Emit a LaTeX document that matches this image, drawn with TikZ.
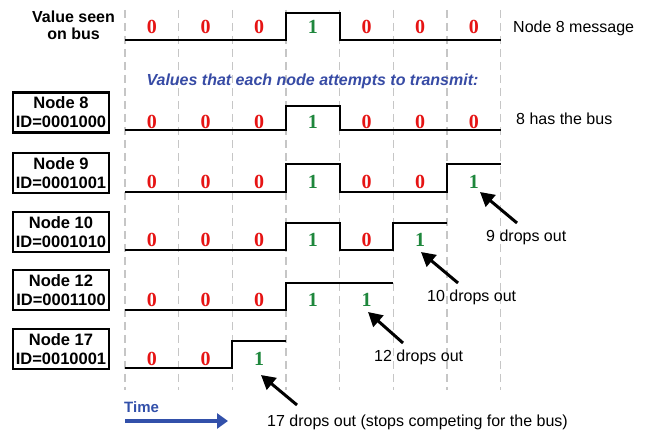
\documentclass[tikz,border=0pt]{standalone}
\usepackage{fontspec}
\setmainfont{Liberation Serif}
\newfontfamily\arial{Liberation Sans}
\usetikzlibrary{arrows.meta}
\definecolor{zred}{RGB}{230,20,20}
\definecolor{zgreen}{RGB}{30,135,60}
\definecolor{zblue}{RGB}{55,75,165}
\definecolor{tblue}{RGB}{50,80,170}
\begin{document}
\begin{tikzpicture}[x=1pt,y=-1pt,
  gridline/.style={gray!45, line width=1.5pt, dash pattern=on 8pt off 5pt},
  wave/.style={line width=1.8pt, black, line join=miter},
  zero/.style={text=zred, font=\fontsize{20}{20}\selectfont\bfseries, inner sep=0pt},
  one/.style={text=zgreen, font=\fontsize{20}{20}\selectfont\bfseries, inner sep=0pt},
  idbox/.style={draw, line width=2.2pt, minimum width=96pt, minimum height=40pt, align=center,
     font=\arial\fontsize{16.5}{19}\selectfont\bfseries, inner sep=1pt, fill=white},
  lbl/.style={font=\arial\fontsize{16}{18}\selectfont, anchor=base west, inner sep=0pt},
  arr/.style={-{Triangle[length=14pt,width=15pt]}, line width=3pt},
  tarr/.style={-{Triangle[length=11pt,width=15pt]}, line width=4.2pt, tblue}]
\useasboundingbox (0,0) rectangle (651,430);
\fill[white] (0,0) rectangle (651,430);
% grid
\foreach \i in {0,...,7}
  \draw[gridline] ({125+53.667*\i},10) -- ({125+53.667*\i},390);
% x positions
\def\XA{125}\def\XB{178.67}\def\XC{232.33}\def\XD{286}\def\XE{339.67}\def\XF{393.33}\def\XG{447}\def\XH{500.67}
% waveforms
\draw[wave] (\XA,40) -- (\XD,40) -- (\XD,13) -- (\XE,13) -- (\XE,40) -- (\XH,40);
\draw[wave] (\XA,130) -- (\XD,130) -- (\XD,106) -- (\XE,106) -- (\XE,130) -- (\XH,130);
\draw[wave] (\XA,192) -- (\XD,192) -- (\XD,164) -- (\XE,164) -- (\XE,192) -- (\XG,192) -- (\XG,164) -- (\XH,164);
\draw[wave] (\XA,250) -- (\XD,250) -- (\XD,223) -- (\XE,223) -- (\XE,250) -- (\XF,250) -- (\XF,223) -- (\XG,223);
\draw[wave] (\XA,310) -- (\XD,310) -- (\XD,283) -- (\XF,283);
\draw[wave] (\XA,368) -- (\XC,368) -- (\XC,341) -- (\XD,341);
% digits
\newcommand{\digitrow}[3]{% #1 name, #2 y, #3 list
  \foreach \d [count=\c] in {#3} {
    \ifnum\d=0
      \node[zero] (#1-\c) at ({125+53.667*(\c-0.5)},#2) {0};
    \else
      \node[one] (#1-\c) at ({125+53.667*(\c-0.5)},#2) {1};
    \fi
  }}
\digitrow{bus}{27}{0,0,0,1,0,0,0}
\digitrow{ea}{121.5}{0,0,0,1,0,0,0}
\digitrow{ni}{181.5}{0,0,0,1,0,0,1}
\digitrow{te}{240}{0,0,0,1,0,1}
\digitrow{tw}{300}{0,0,0,1,1}
\digitrow{se}{358.5}{0,0,1}
% left labels
\node[font=\arial\fontsize{16}{18}\selectfont\bfseries, anchor=base, inner sep=0pt] (vs1) at (73.5,23) {Value seen};
\node[font=\arial\fontsize{16}{18}\selectfont\bfseries, anchor=base, inner sep=0pt] (vs2) at (73.5,40) {on bus};
\node[idbox] (b8) at (61,112.5) {Node 8\\ID=0001000};
\node[idbox] (b9) at (61,173) {Node 9\\ID=0001001};
\node[idbox] (b10) at (61,232) {Node 10\\ID=0001010};
\node[idbox] (b12) at (61,290) {Node 12\\ID=0001100};
\node[idbox] (b17) at (61,349) {Node 17\\ID=0010001};
% title
\node[font=\arial\fontsize{16}{18}\selectfont\bfseries\itshape, text=zblue, anchor=base, inner sep=0pt] (vt) at (312.5,86) {Values that each node attempts to transmit:};
% right labels
\node[lbl] (l8m) at (513,33) {Node 8 message};
\node[lbl] (l8b) at (516,125) {8 has the bus};
\node[lbl] (l9) at (486,242) {9 drops out};
\node[lbl] (l10) at (427,302) {10 drops out};
\node[lbl] (l12) at (374,362) {12 drops out};
\node[lbl] (l17) at (267,426) {17 drops out (stops competing for the bus)};
% arrows
\coordinate (a9s) at (517,223); \coordinate (a9e) at (480,192);
\coordinate (a10s) at (458,283); \coordinate (a10e) at (421,252);
\coordinate (a12s) at (403,343); \coordinate (a12e) at (368,312);
\coordinate (a17s) at (297,405); \coordinate (a17e) at (261,375);
\draw[arr] (a9s) -- (a9e);
\draw[arr] (a10s) -- (a10e);
\draw[arr] (a12s) -- (a12e);
\draw[arr] (a17s) -- (a17e);
% time
\node[font=\arial\fontsize{15}{17}\selectfont\bfseries, text=tblue, anchor=base west, inner sep=0pt] (tm) at (124,413) {Time};
\coordinate (ts) at (125,421); \coordinate (tend) at (228,421);
\draw[tarr] (ts) -- (tend);
\end{tikzpicture}
\end{document}
